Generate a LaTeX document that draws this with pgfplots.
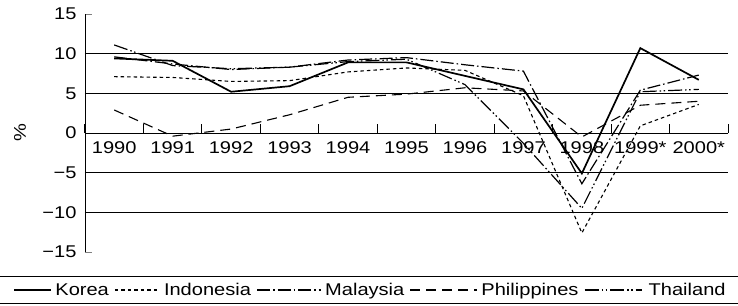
\documentclass[border=0pt]{standalone}
\usepackage{pgfplots}
\pgfplotsset{compat=1.18}
\usepackage{fontspec}
\setmainfont[FakeStretch=1.18]{Liberation Sans}
\pgfplotsset{leglen/.style={legend image code/.code={\draw[##1] (0pt,0pt) -- (#1,0pt);}}}
\begin{document}
\begin{tikzpicture}
\useasboundingbox (-85pt,-53pt) rectangle (653pt,252pt);
\begin{axis}[
  at={(0pt,0pt)}, anchor=south west,
  scale only axis, width=643pt, height=238pt,
  xmin=-0.5, xmax=10.5, ymin=-15, ymax=15,
  axis x line=middle, axis y line=left,
  axis line style={-, line width=0.9pt},
  xtick={0,1,...,10},
  xticklabels={1990,1991,1992,1993,1994,1995,1996,1997,1998,1999*,2000*},
  major x tick style={draw=none},
  xticklabel style={font=\fontsize{17}{17}\selectfont, yshift=-2pt},
  ytick={-15,-10,-5,0,5,10,15},
  yticklabels={−15,−10,−5,0,5,10,15},
  ytick align=inside,
  major tick length=7pt,
  major y tick style={line width=0.9pt},
  extra y ticks={-10,-5,5,10},
  extra y tick labels={},
  extra y tick style={grid=major, major tick length=0pt, major grid style={black, line width=0.8pt}},
  yticklabel style={font=\fontsize{17}{17}\selectfont, xshift=-5pt},
  ylabel={\%},
  ylabel style={at={(axis description cs:-0.101,0.5)}, anchor=center, font=\fontsize{17}{17}\selectfont},
  legend columns=5,
  legend style={at={(axis description cs:-0.112,-0.1597)}, anchor=west, draw=none, fill=none,
    font=\fontsize{17}{17}\selectfont, inner sep=0pt, nodes={inner sep=3.5pt},
    /tikz/every even column/.append style={column sep=2pt}},
  clip=false,
]
\pgfplotsinvokeforeach{-0.5,0.5,1.5,2.5,3.5,4.5,5.5,6.5,7.5,8.5,9.5,10.5}{
  \draw[black, line width=1pt] (axis cs:#1,0) -- ([yshift=9pt]axis cs:#1,0);
}
\addplot[black, line width=1.7pt, leglen=37pt]
  coordinates {(0,9.4) (1,9.1) (2,5.2) (3,5.9) (4,8.9) (5,8.9) (6,7.2) (7,5.5) (8,-5.1) (9,10.7) (10,6.7)};
\addlegendentry{Korea}
\addplot[black, line width=1.1pt, dash pattern=on 3.5pt off 3pt, leglen=45pt]
  coordinates {(0,7.1) (1,7.0) (2,6.5) (3,6.6) (4,7.7) (5,8.2) (6,7.9) (7,4.7) (8,-12.6) (9,0.9) (10,3.6)};
\addlegendentry{Indonesia}
\addplot[black, line width=1.2pt, dash pattern=on 13pt off 3pt on 1.5pt off 3pt, leglen=64pt]
  coordinates {(0,9.6) (1,8.7) (2,8.0) (3,8.3) (4,9.2) (5,9.5) (6,8.6) (7,7.8) (8,-6.4) (9,5.4) (10,7.3)};
\addlegendentry{Malaysia\hspace{7pt}}
\addplot[black, line width=1.1pt, dash pattern=on 10pt off 6pt, leglen=67pt]
  coordinates {(0,2.9) (1,-0.4) (2,0.5) (3,2.3) (4,4.5) (5,4.9) (6,5.7) (7,5.3) (8,-0.5) (9,3.5) (10,4.0)};
\addlegendentry{Philippines\hspace{24pt}}
\addplot[black, line width=1.2pt, dash pattern=on 14pt off 3pt on 1.5pt off 2.5pt on 1.5pt off 3pt, leglen=57pt]
  coordinates {(0,11.1) (1,8.5) (2,8.1) (3,8.3) (4,9.0) (5,9.3) (6,6.1) (7,-1.3) (8,-9.5) (9,5.2) (10,5.5)};
\addlegendentry{\hspace{3pt}Thailand}
\end{axis}
\draw[line width=0.9pt] (-85pt,-24pt) -- (653pt,-24pt);
\draw[line width=0.9pt] (-85pt,-51pt) -- (653pt,-51pt);
\end{tikzpicture}
\end{document}
